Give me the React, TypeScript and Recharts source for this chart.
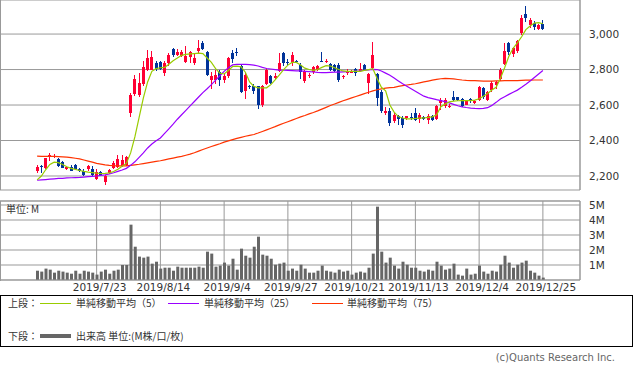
import {
  Bar,
  CartesianGrid,
  ComposedChart,
  Line,
  ReferenceLine,
  XAxis,
  YAxis,
} from "recharts";

// Trading-day index of each dated gridline, and its label
const TICK_INDEX = [14, 29, 44, 59, 74, 89, 104, 119];
const TICK_LABELS = [
  "2019/7/23",
  "2019/8/14",
  "2019/9/4",
  "2019/9/27",
  "2019/10/21",
  "2019/11/13",
  "2019/12/4",
  "2019/12/25",
];
const PRICE_TICKS = [2200, 2400, 2600, 2800, 3000];
const VOLUME_TICKS = [1, 2, 3, 4, 5];

const OPEN = [
  2230, 2255, 2243, 2305, 2310, 2293, 2277, 2239, 2252, 2264,
  2241, 2230, 2239, 2239, 2185, 2224, 2165, 2215, 2245, 2249,
  2258, 2262, 2557, 2660, 2654, 2716, 2796, 2800, 2837, 2841,
  2781, 2837, 2916, 2884, 2879, 2841, 2871, 2837, 2903, 2950,
  2897, 2740, 2740, 2785, 2740, 2763, 2893, 2899, 2819, 2679,
  2705, 2710, 2707, 2598, 2716, 2763, 2753, 2791, 2893, 2845,
  2837, 2848, 2828, 2735, 2763, 2784, 2796, 2850, 2840, 2830,
  2826, 2826, 2758, 2780, 2783, 2802, 2789, 2826, 2723, 2807,
  2776, 2676, 2555, 2564, 2508, 2536, 2527, 2527, 2535, 2555,
  2521, 2533, 2514, 2536, 2521, 2611, 2592, 2592, 2643, 2643,
  2634, 2602, 2632, 2611, 2630, 2695, 2630, 2686, 2714, 2746,
  2832, 2951, 2888, 2907, 3004, 3112, 3050, 3060, 3030, 3055,
];
const CLOSE = [
  2252, 2250, 2299, 2317, 2313, 2254, 2247, 2252, 2230, 2241,
  2228, 2208, 2258, 2206, 2224, 2206, 2200, 2236, 2273, 2295,
  2290, 2308, 2654, 2748, 2725, 2813, 2865, 2869, 2804, 2804,
  2837, 2884, 2884, 2897, 2897, 2875, 2897, 2865, 2922, 2916,
  2772, 2766, 2772, 2740, 2766, 2865, 2860, 2895, 2673, 2772,
  2700, 2679, 2598, 2707, 2800, 2725, 2766, 2837, 2837, 2835,
  2884, 2840, 2785, 2791, 2772, 2815, 2820, 2845, 2848, 2798,
  2794, 2742, 2764, 2792, 2794, 2783, 2804, 2798, 2776, 2882,
  2639, 2564, 2564, 2499, 2546, 2521, 2490, 2536, 2532, 2518,
  2546, 2521, 2540, 2518, 2592, 2630, 2630, 2596, 2630, 2630,
  2592, 2620, 2625, 2620, 2701, 2648, 2671, 2723, 2727, 2798,
  2907, 2901, 2920, 2963, 3088, 3088, 3079, 3040, 3050, 3030,
];
const HIGH = [
  2262, 2264, 2300, 2327, 2323, 2299, 2286, 2258, 2264, 2267,
  2247, 2239, 2264, 2258, 2240, 2230, 2206, 2239, 2286, 2320,
  2318, 2314, 2665, 2772, 2781, 2847, 2908, 2907, 2847, 2850,
  2847, 2893, 2922, 2916, 2912, 2931, 2903, 2893, 2968, 2959,
  2903, 2785, 2800, 2800, 2781, 2871, 2908, 2922, 2828, 2781,
  2712, 2716, 2710, 2712, 2809, 2772, 2781, 2893, 2897, 2860,
  2897, 2856, 2837, 2795, 2778, 2819, 2825, 2900, 2858, 2839,
  2832, 2836, 2770, 2802, 2800, 2808, 2836, 2832, 2783, 2957,
  2780, 2686, 2589, 2583, 2553, 2546, 2536, 2540, 2555, 2583,
  2555, 2540, 2551, 2545, 2600, 2639, 2639, 2605, 2677, 2648,
  2639, 2626, 2639, 2630, 2708, 2701, 2680, 2733, 2738, 2807,
  2948, 2957, 2929, 2966, 3107, 3157, 3088, 3075, 3058, 3077,
];
const LOW = [
  2219, 2217, 2240, 2286, 2300, 2249, 2243, 2235, 2228, 2235,
  2224, 2202, 2230, 2202, 2180, 2202, 2150, 2211, 2239, 2245,
  2249, 2256, 2533, 2650, 2647, 2710, 2790, 2800, 2791, 2795,
  2766, 2819, 2871, 2875, 2871, 2837, 2837, 2828, 2893, 2912,
  2766, 2688, 2716, 2707, 2725, 2753, 2837, 2875, 2665, 2632,
  2692, 2660, 2576, 2591, 2712, 2716, 2744, 2785, 2819, 2825,
  2819, 2835, 2744, 2725, 2750, 2776, 2790, 2840, 2835, 2789,
  2785, 2727, 2746, 2770, 2778, 2764, 2787, 2789, 2661, 2798,
  2592, 2555, 2546, 2484, 2500, 2490, 2471, 2518, 2514, 2508,
  2499, 2515, 2495, 2510, 2515, 2574, 2583, 2585, 2620, 2622,
  2589, 2598, 2611, 2605, 2620, 2633, 2620, 2676, 2690, 2733,
  2826, 2882, 2873, 2895, 2994, 3069, 3032, 3025, 3022, 3025,
];
// millions of shares
const VOLUME = [
  0.62, 0.56, 0.76, 0.69, 0.49, 0.62, 0.56, 0.49, 0.42, 0.62,
  0.42, 0.62, 0.56, 0.49, 0.36, 0.56, 0.69, 0.42, 0.62, 0.69,
  1.0, 1.0, 3.69, 2.22, 1.56, 1.49, 1.56, 1.09, 1.22, 0.76,
  0.82, 0.82, 0.62, 0.89, 0.82, 0.82, 0.82, 0.82, 0.89, 0.82,
  1.89, 1.76, 0.89, 0.96, 1.16, 0.96, 1.42, 0.69, 2.09, 1.62,
  1.49, 2.22, 2.89, 1.69, 1.62, 1.42, 1.02, 1.09, 1.16, 0.62,
  0.76, 0.62, 1.02, 0.76, 0.49, 0.49, 0.62, 0.96, 0.62, 0.56,
  0.49, 0.69, 0.56, 0.62, 0.36, 0.49, 0.56, 0.49, 0.82, 1.76,
  4.89, 1.89, 1.16, 1.49, 0.96, 0.76, 1.22, 1.02, 0.82, 0.82,
  0.62, 0.56, 0.69, 0.62, 1.22, 0.96, 0.69, 0.76, 1.09, 0.36,
  0.29, 0.76, 0.36, 0.42, 0.96, 0.56, 0.42, 0.62, 0.56, 1.02,
  1.62, 1.16, 0.82, 1.02, 1.16, 1.29, 0.62, 0.49, 0.29, 0.16,
];
const MA5 = [
  2178, 2200, 2235, 2265, 2278, 2275, 2265, 2252, 2243, 2237,
  2231, 2226, 2222, 2219, 2216, 2214, 2215, 2218, 2225, 2238,
  2255, 2271, 2330, 2420, 2530, 2640, 2730, 2790, 2805, 2810,
  2812, 2830, 2850, 2865, 2880, 2885, 2888, 2890, 2892, 2890,
  2865, 2840, 2805, 2780, 2775, 2795, 2817, 2819, 2815, 2785,
  2730, 2705, 2697, 2697, 2697, 2715, 2742, 2770, 2800, 2825,
  2840, 2840, 2825, 2808, 2800, 2795, 2800, 2812, 2822, 2820,
  2810, 2800, 2792, 2790, 2790, 2790, 2790, 2795, 2800, 2805,
  2750, 2700, 2680, 2600, 2560, 2535, 2527, 2522, 2522, 2524,
  2526, 2527, 2530, 2533, 2545, 2590, 2605, 2618, 2622, 2624,
  2625, 2625, 2625, 2628, 2635, 2650, 2665, 2685, 2700, 2750,
  2810, 2875, 2920, 2950, 2985, 3025, 3045, 3062, 3064, 3058,
];
const MA25 = [
  2176, 2178, 2180, 2182, 2184, 2186, 2187, 2189, 2190, 2191,
  2192, 2194, 2196, 2198, 2200, 2203, 2206, 2211, 2218, 2226,
  2234, 2243, 2260, 2280, 2305, 2330, 2358, 2380, 2398, 2414,
  2440, 2466, 2492, 2520, 2545, 2570, 2595, 2620, 2645, 2670,
  2692, 2715, 2740, 2765, 2790, 2810, 2826, 2829, 2829, 2829,
  2828, 2825, 2820, 2812, 2806, 2803, 2800, 2797, 2796, 2795,
  2794, 2793, 2792, 2790, 2788, 2786, 2784, 2783, 2783, 2784,
  2785, 2786, 2787, 2788, 2789, 2791, 2793, 2796, 2798, 2801,
  2800, 2792, 2780, 2768, 2752, 2736, 2720, 2706, 2692, 2678,
  2663, 2650, 2642, 2636, 2630, 2625, 2619, 2612, 2604, 2596,
  2590, 2586, 2583, 2581, 2580, 2581, 2585, 2598, 2615, 2634,
  2647, 2660, 2672, 2684, 2700, 2717, 2735, 2755, 2775, 2795,
];
const MA75 = [
  2312, 2311, 2311, 2310, 2310, 2309, 2308, 2306, 2303, 2300,
  2296, 2290, 2284, 2278, 2271, 2267, 2263, 2260, 2258, 2257,
  2257, 2257, 2260, 2263, 2266, 2270, 2274, 2278, 2282, 2286,
  2291, 2296, 2301, 2306, 2311, 2317, 2323, 2331, 2340, 2349,
  2358, 2366, 2374, 2382, 2391, 2398, 2405, 2412, 2418, 2424,
  2429, 2434, 2442, 2451, 2460, 2469, 2478, 2488, 2497, 2506,
  2515, 2524, 2533, 2541, 2550, 2558, 2567, 2577, 2587, 2597,
  2606, 2615, 2624, 2632, 2640, 2648, 2656, 2664, 2672, 2680,
  2686, 2691, 2695, 2698, 2700, 2705, 2709, 2713, 2716, 2720,
  2725, 2730, 2735, 2740, 2745, 2748, 2750, 2749, 2747, 2744,
  2741, 2739, 2738, 2737, 2736, 2735, 2735, 2735, 2736, 2736,
  2737, 2737, 2738, 2738, 2739, 2740, 2740, 2741, 2741, 2741,
];

const UP = "#ff0033";
const DOWN = "#003399";
const MA5_COLOUR = "#99cc00";
const MA25_COLOUR = "#9900ff";
const MA75_COLOUR = "#ff3300";
const GRID = "#999999";
const TEXT = "#333333";
const CJK = "'Noto Sans CJK JP', sans-serif";
const AXIS_FONT = { fill: TEXT, fontSize: 10.5, fontFamily: "DejaVu Sans" };

const PRICE_DOMAIN = [2121, 3192];
const VOLUME_MAX = 5.267;
const X_PADDING = { left: 35, right: 35 };

const rows = CLOSE.map((close, i) => ({
  i,
  open: OPEN[i],
  high: HIGH[i],
  low: LOW[i],
  close,
  volume: VOLUME[i],
  ma5: MA5[i],
  ma25: MA25[i],
  ma75: MA75[i],
}));

function Candle(props: any) {
  const { x, y, width, height, payload } = props;
  if (payload == null || x == null || y == null) return null;
  const { open, close, high, low } = payload;
  const top = Math.min(y, y + height);
  const h = Math.abs(height);
  const perUnit = h / Math.max(high - low, 1);
  const yOf = (v: number) => top + (high - v) * perUnit;
  const colour = close >= open ? UP : DOWN;
  const cx = Math.floor(x + width / 2);
  const bodyTop = yOf(Math.max(open, close));
  const bodyBottom = yOf(Math.min(open, close));
  return (
    <g shapeRendering="crispEdges">
      <rect x={cx} y={top} width={1} height={Math.max(h, 1)} fill={colour} />
      <rect
        x={cx - 1}
        y={bodyTop}
        width={3}
        height={Math.max(bodyBottom - bodyTop, 1)}
        fill={colour}
      />
    </g>
  );
}

const formatDate = (v: number) => TICK_LABELS[TICK_INDEX.indexOf(v)] ?? "";

function LegendLine({ left, top, colour, thick }: { left: number; top: number; colour: string; thick?: number }) {
  return (
    <div
      style={{
        position: "absolute",
        left,
        top,
        width: 31,
        height: thick ?? 1,
        background: colour,
      }}
    />
  );
}

function LegendText({ left, top, children }: { left: number; top: number; children: string }) {
  return (
    <span
      style={{
        position: "absolute",
        left,
        top,
        fontFamily: CJK,
        fontSize: 10,
        lineHeight: "12px",
        color: TEXT,
        whiteSpace: "nowrap",
      }}
    >
      {children}
    </span>
  );
}

export default function App() {
  return (
    <div style={{ position: "relative", width: 633, height: 374, background: "#fff", overflow: "hidden" }}>
      <style>{"body{margin:0}"}</style>

      {/* upper panel: candles with moving averages */}
      <div style={{ position: "absolute", left: 0, top: 0 }}>
        <ComposedChart
          width={633}
          height={191}
          data={rows}
          margin={{ top: 0, right: 0, bottom: 1, left: 0 }}
          barCategoryGap={0}
        >
          <CartesianGrid stroke={GRID} />
          <XAxis
            dataKey="i"
            type="category"
            ticks={TICK_INDEX}
            interval={0}
            tick={false}
            tickLine={false}
            height={0}
            padding={X_PADDING}
            axisLine={{ stroke: GRID }}
          />
          <YAxis
            orientation="right"
            width={53}
            domain={PRICE_DOMAIN}
            allowDataOverflow
            ticks={PRICE_TICKS}
            interval={0}
            tickFormatter={(v: number) => v.toLocaleString("en-US")}
            tick={AXIS_FONT}
            tickLine={false}
            tickMargin={3}
            axisLine={{ stroke: GRID }}
          />
          <Bar
            dataKey={(d: any) => [d.low, d.high]}
            shape={Candle}
            isAnimationActive={false}
          />
          <Line type="linear" dataKey="ma75" stroke={MA75_COLOUR} strokeWidth={1.2} dot={false} activeDot={false} isAnimationActive={false} />
          <Line type="linear" dataKey="ma25" stroke={MA25_COLOUR} strokeWidth={1.2} dot={false} activeDot={false} isAnimationActive={false} />
          <Line type="linear" dataKey="ma5" stroke={MA5_COLOUR} strokeWidth={1.2} dot={false} activeDot={false} isAnimationActive={false} />
        </ComposedChart>
      </div>
      <div style={{ position: "absolute", left: 0, top: 0, width: 1, height: 190, background: GRID }} />

      {/* lower panel: volume */}
      <div style={{ position: "absolute", left: 0, top: 191 }}>
        <ComposedChart
          width={633}
          height={108}
          data={rows}
          margin={{ top: 10, right: 0, bottom: 0, left: 0 }}
        >
          <CartesianGrid stroke={GRID} />
          <XAxis
            dataKey="i"
            type="category"
            ticks={TICK_INDEX}
            interval={0}
            tickFormatter={formatDate}
            tick={{ ...AXIS_FONT, dx: 3 }}
            tickLine={false}
            tickSize={2}
            tickMargin={2}
            height={19}
            padding={X_PADDING}
            axisLine={{ stroke: GRID }}
          />
          <YAxis
            orientation="right"
            width={53}
            domain={[0, VOLUME_MAX]}
            allowDataOverflow
            ticks={VOLUME_TICKS}
            interval={0}
            tickFormatter={(v: number) => `${v}M`}
            tick={AXIS_FONT}
            tickLine={false}
            tickMargin={3}
            axisLine={{ stroke: GRID }}
          />
          <ReferenceLine y={VOLUME_MAX} stroke={GRID} />
          <Bar dataKey="volume" fill="#666666" barSize={3} isAnimationActive={false} />
        </ComposedChart>
      </div>
      <div style={{ position: "absolute", left: 0, top: 201, width: 1, height: 80, background: GRID }} />
      <LegendText left={6} top={203}>単位: M</LegendText>

      {/* legend box */}
      <div
        style={{
          position: "absolute",
          left: 0,
          top: 295,
          width: 633,
          height: 52,
          boxSizing: "border-box",
          border: "1px solid #000",
        }}
      />
      <LegendText left={8} top={297}>上段：</LegendText>
      <LegendLine left={40} top={303} colour={MA5_COLOUR} />
      <LegendText left={76} top={297}>単純移動平均（5）</LegendText>
      <LegendLine left={168} top={303} colour={MA25_COLOUR} />
      <LegendText left={204} top={297}>単純移動平均（25）</LegendText>
      <LegendLine left={312} top={303} colour={MA75_COLOUR} />
      <LegendText left={347} top={297}>単純移動平均（75）</LegendText>

      <LegendText left={8} top={330}>下段：</LegendText>
      <LegendLine left={40} top={334} colour="#666666" thick={4} />
      <LegendText left={76} top={330}>出来高 単位:(M株/口/枚)</LegendText>

      <span
        style={{
          position: "absolute",
          right: 18,
          top: 352,
          fontFamily: "DejaVu Sans",
          fontSize: 10,
          lineHeight: "12px",
          color: "#666666",
          whiteSpace: "nowrap",
        }}
      >
        (c)Quants Research Inc.
      </span>
    </div>
  );
}
